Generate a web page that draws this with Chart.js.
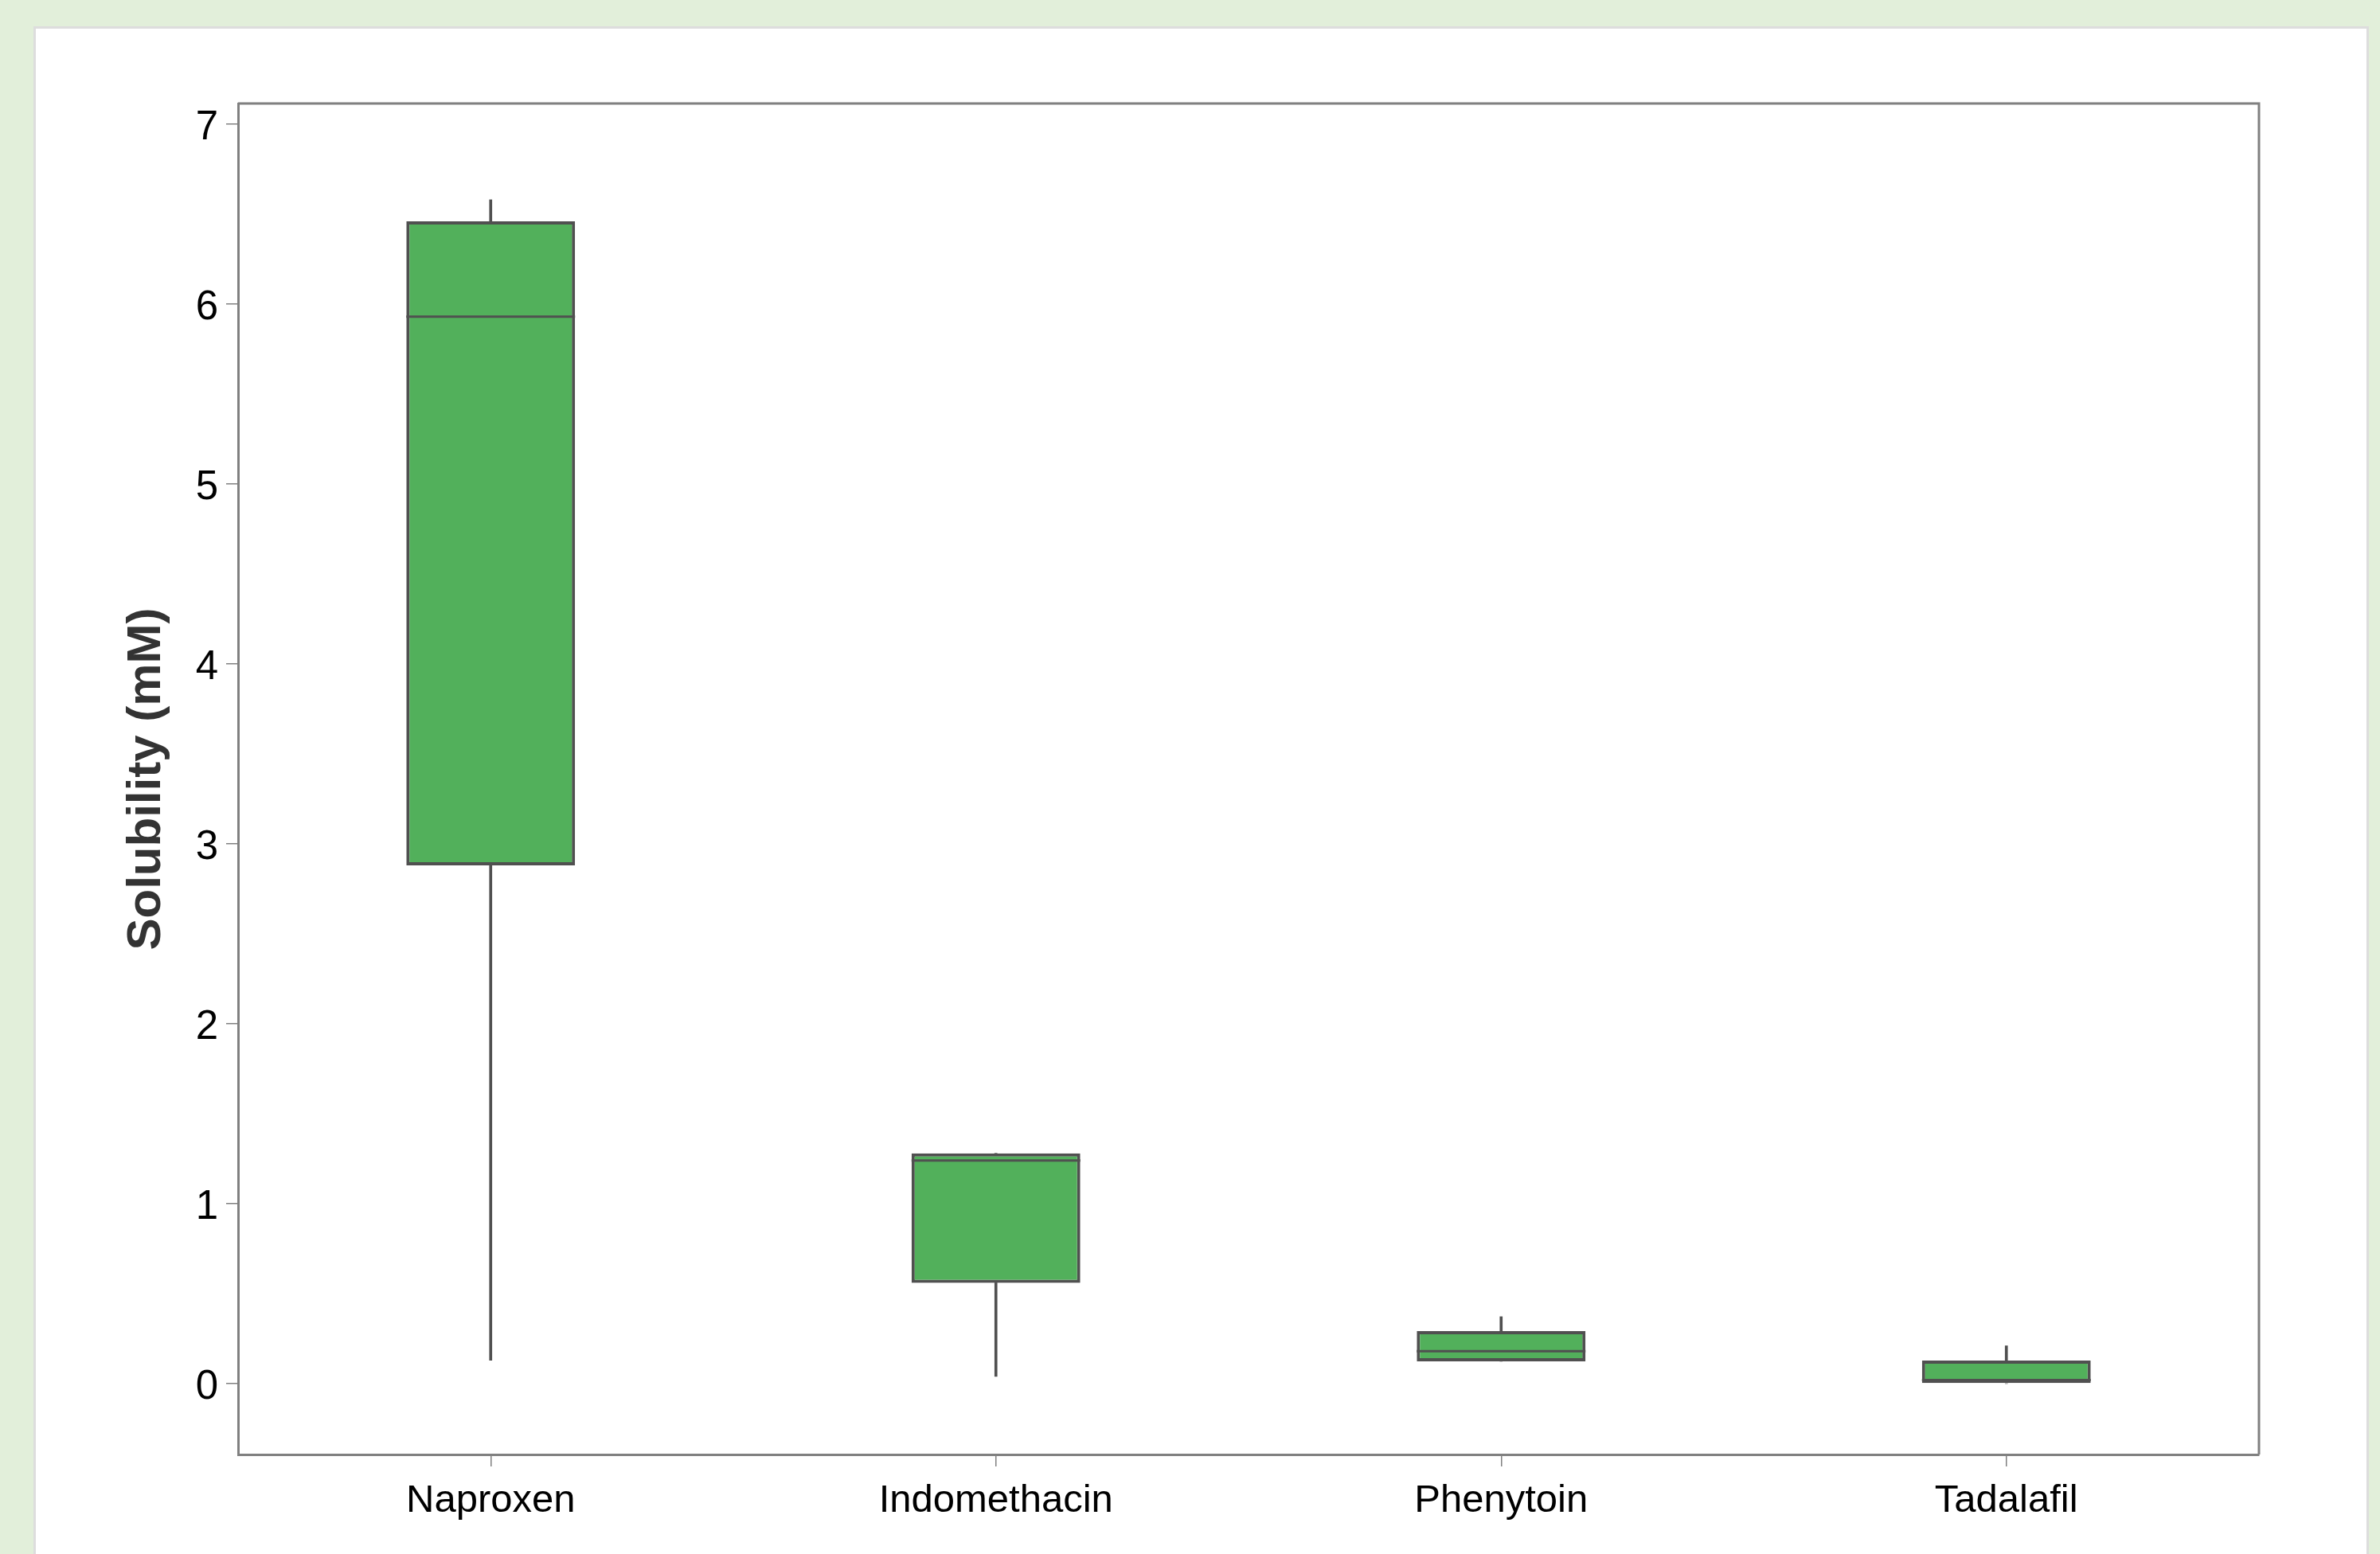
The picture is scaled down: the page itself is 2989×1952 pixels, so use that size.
<!DOCTYPE html>
<html>
<head>
<meta charset="utf-8">
<script src="https://cdn.jsdelivr.net/npm/chart.js@4.4.1/dist/chart.umd.min.js"></script>
<style>
  html, body { margin: 0; padding: 0; overflow: hidden; }
  body { width: 2989px; height: 1952px; background: #e2efda; position: relative; }
  #panel {
    position: absolute; left: 42px; top: 33px;
    width: 2927px; height: 1960px;
    background: #ffffff; border: 3px solid #dddddd;
  }
  #myChart { position: absolute; left: 0; top: 0; }
</style>
</head>
<body>
<div id="panel"></div>
<canvas id="myChart" width="2989" height="1952"></canvas>
<script>
// box plot values (mM)
const drugs = ["Naproxen", "Indomethacin", "Phenytoin", "Tadalafil"];
const minVals = [0.13, 0.04, 0.124, 0.0];
const q1Vals = [2.88, 0.56, 0.124, 0.0];
const medianVals = [5.93, 1.24, 0.18, 0.02];
const q3Vals = [6.46, 1.28, 0.292, 0.128];
const maxVals = [6.58, 1.28, 0.372, 0.21];
const yTicks = [0, 1, 2, 3, 4, 5, 6, 7];

const boxFill = '#52b05b';
const lineGrey = '#505050';
const axisGrey = '#808080';

// median lines + top/right frame of the plot area
const boxExtras = {
    id: 'boxExtras',
    afterDatasetsDraw(chart) {
        const ctx = chart.ctx;
        const yScale = chart.scales.y;
        const meta = chart.getDatasetMeta(0);
        ctx.save();
        ctx.strokeStyle = lineGrey;
        ctx.lineWidth = 3;
        meta.data.forEach((bar, i) => {
            const y = yScale.getPixelForValue(medianVals[i]);
            ctx.beginPath();
            ctx.moveTo(bar.x - bar.width / 2, y);
            ctx.lineTo(bar.x + bar.width / 2, y);
            ctx.stroke();
        });
        const a = chart.chartArea;
        ctx.strokeStyle = axisGrey;
        ctx.lineWidth = 3;
        ctx.beginPath();
        ctx.moveTo(a.left, a.top);
        ctx.lineTo(a.right, a.top);
        ctx.lineTo(a.right, a.bottom);
        ctx.stroke();
        ctx.restore();
    }
};

const ctx = document.getElementById('myChart').getContext('2d');

new Chart(ctx, {
    type: 'bar',
    data: {
        labels: drugs,
        datasets: [
            {
                label: 'box',
                data: drugs.map((d, i) => [q1Vals[i], q3Vals[i]]),
                backgroundColor: boxFill,
                borderColor: lineGrey,
                borderWidth: 4,
                borderSkipped: false,
                categoryPercentage: 1,
                barPercentage: 0.334,
                grouped: false,
                order: 0
            },
            {
                label: 'upper whisker',
                data: drugs.map((d, i) => [q3Vals[i], maxVals[i]]),
                backgroundColor: lineGrey,
                borderWidth: 0,
                barThickness: 3,
                grouped: false,
                order: 1
            },
            {
                label: 'lower whisker',
                data: drugs.map((d, i) => [minVals[i], q1Vals[i]]),
                backgroundColor: lineGrey,
                borderWidth: 0,
                barThickness: 3,
                grouped: false,
                order: 1
            }
        ]
    },
    options: {
        responsive: false,
        animation: false,
        devicePixelRatio: 1,
        layout: {
            padding: { left: 0, top: 130, right: 152, bottom: 0 }
        },
        plugins: {
            legend: { display: false },
            tooltip: { enabled: false }
        },
        scales: {
            x: {
                type: 'category',
                offset: true,
                afterFit(scale) { scale.height = 125; },
                grid: {
                    offset: false,
                    drawOnChartArea: false,
                    tickLength: 15,
                    color: axisGrey,
                    lineWidth: 1.5
                },
                border: { display: true, color: axisGrey, width: 3 },
                ticks: {
                    color: '#000000',
                    padding: 14,
                    font: { family: "'Liberation Sans', Arial, sans-serif", size: 49 }
                }
            },
            y: {
                min: -0.394,
                max: 7.115,
                afterFit(scale) { scale.width = 299; },
                afterBuildTicks(scale) {
                    scale.ticks = yTicks.map(v => ({ value: v }));
                },
                grid: {
                    drawOnChartArea: false,
                    tickLength: 15,
                    color: axisGrey,
                    lineWidth: 1.5
                },
                border: { display: true, color: axisGrey, width: 3 },
                ticks: {
                    color: '#000000',
                    padding: 10,
                    labelOffset: 5,
                    font: { family: "'Liberation Sans', Arial, sans-serif", size: 51 }
                },
                title: {
                    display: true,
                    text: 'Solubility (mM)',
                    color: '#333333',
                    padding: { top: 148, bottom: 0 },
                    font: { family: "'Liberation Sans', Arial, sans-serif", size: 60, weight: 'bold' }
                }
            }
        }
    },
    plugins: [boxExtras]
});
</script>
</body>
</html>
